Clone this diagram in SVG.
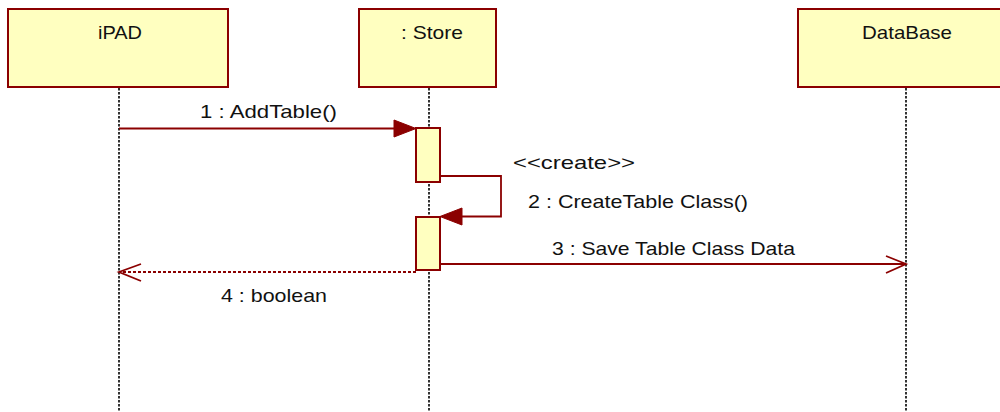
<svg xmlns="http://www.w3.org/2000/svg" width="1000" height="412" viewBox="0 0 1000 412">
<style>
.obj{fill:#FFFFC0;stroke:#8B0000;stroke-width:2}
.act{fill:#FFFFC0;stroke:#8B0000;stroke-width:2}
.life{stroke:#000;stroke-width:1.6;stroke-dasharray:2.5,1.5;fill:none}
.msg{stroke:#8B0000;stroke-width:1.8;fill:none}
.ret{stroke:#8B0000;stroke-width:1.8;fill:none;stroke-dasharray:3,2}
.head{fill:#8B0000;stroke:#8B0000;stroke-width:1}
.open{fill:none;stroke:#8B0000;stroke-width:1.8}
text{font-family:"Liberation Sans",Arial,sans-serif;font-size:19px;fill:#111}
</style>
<rect width="1000" height="412" fill="#fff"/>
<g id="lifelines">
<line class="life" x1="119" y1="88" x2="119" y2="412"/>
<line class="life" x1="429" y1="88" x2="429" y2="412"/>
<line class="life" x1="906" y1="88" x2="906" y2="412"/>
</g>
<g id="ipad">
<rect class="obj" x="8" y="9" width="220" height="78"/>
<text x="98" y="39" textLength="44" lengthAdjust="spacingAndGlyphs">iPAD</text>
</g>
<g id="store">
<rect class="obj" x="359" y="9" width="137" height="78"/>
<text x="401" y="39" textLength="62" lengthAdjust="spacingAndGlyphs">: Store</text>
</g>
<g id="database">
<rect class="obj" x="798" y="9" width="216" height="78"/>
<text x="862" y="39" textLength="90" lengthAdjust="spacingAndGlyphs">DataBase</text>
</g>
<g id="activations">
<rect class="act" x="416" y="128" width="24" height="54"/>
<rect class="act" x="416" y="217" width="24" height="53"/>
</g>
<g id="connectors">
<line class="msg" x1="119" y1="128.5" x2="400" y2="128.5"/>
<polygon class="head" points="416,128.5 394,120 394,137"/>
<text x="200" y="118" textLength="137" lengthAdjust="spacingAndGlyphs">1 : AddTable()</text>
<polyline class="msg" points="440,176 501,176 501,216.5 455,216.5"/>
<polygon class="head" points="440,216.5 462,208 462,225"/>
<text x="513" y="169" textLength="122" lengthAdjust="spacingAndGlyphs">&lt;&lt;create&gt;&gt;</text>
<text x="528" y="208" textLength="220" lengthAdjust="spacingAndGlyphs">2 : CreateTable Class()</text>
<line class="msg" x1="440" y1="264" x2="905" y2="264"/>
<polyline class="open" points="886,256 906,264 886,273"/>
<text x="552" y="255" textLength="243" lengthAdjust="spacingAndGlyphs">3 : Save Table Class Data</text>
<line class="ret" x1="416" y1="272" x2="120" y2="272"/>
<polyline class="open" points="141,264 119,272 141,281"/>
<text x="221" y="302" textLength="106" lengthAdjust="spacingAndGlyphs">4 : boolean</text>
</g>
</svg>
